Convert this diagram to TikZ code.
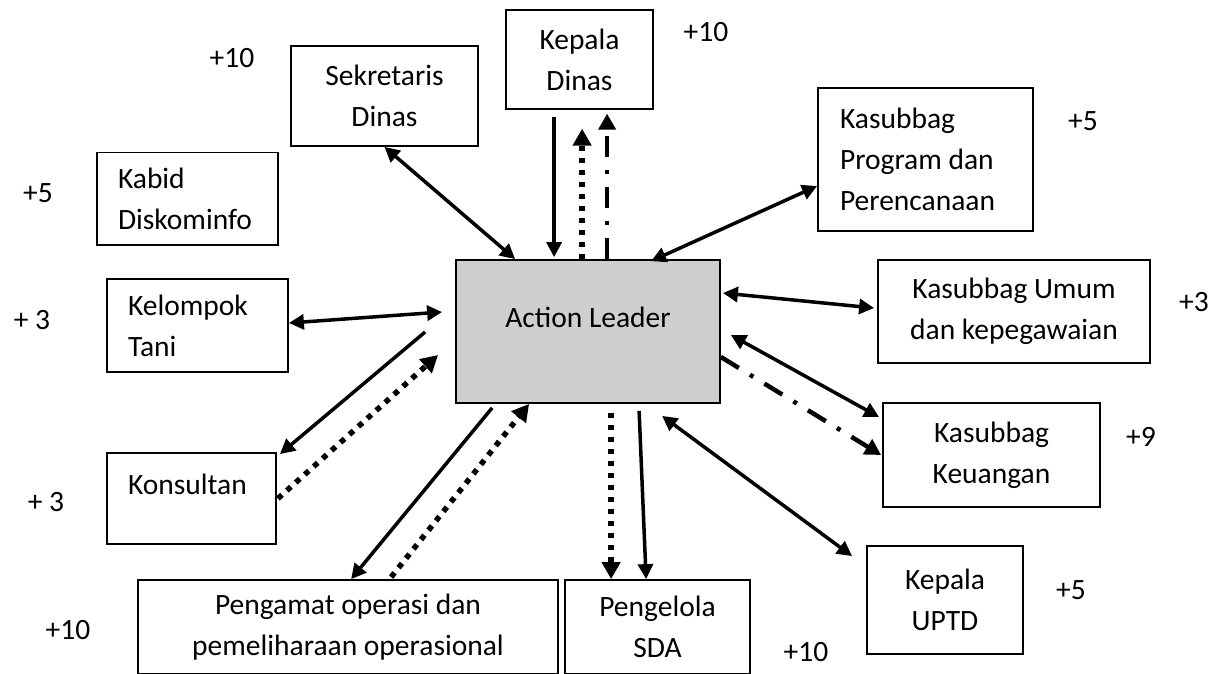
\documentclass[tikz,border=0pt]{standalone}
\usepackage{fontspec}
\setmainfont{Carlito}
\usetikzlibrary{arrows.meta}
\definecolor{algray}{RGB}{208,206,206}
\newcommand\diagfont{\fontsize{29.5}{41}\selectfont}
\begin{document}
\begin{tikzpicture}[x=1pt,y=-1pt,
  >={Triangle[length=15pt,width=15pt]},
  box/.style={draw, line width=1.8pt, inner sep=0pt, font=\diagfont, align=center},
  leftbox/.style={box, align=flush left},
  score/.style={font=\diagfont, inner sep=0pt},
  solidarr/.style={line width=3.5pt},
  dotarr/.style={line width=5.5pt, dash pattern=on 5.5pt off 6.5pt, >={Triangle[length=17pt,width=18pt]}},
  dasharr/.style={line width=4.5pt, dash pattern=on 21pt off 13pt on 4pt off 13pt, >={Triangle[length=16pt,width=17pt]}}]
\useasboundingbox (0,0) rectangle (1209,673);
\clip (0,0) rectangle (1209,673);
\fill[white] (0,0) rectangle (1209,673);

% boxes
\node[box, minimum width=147pt, minimum height=98.5pt] (kd) at (579.5,59.5) {Kepala\\Dinas};
\node[box, minimum width=187pt, minimum height=100pt] (sek) at (384.5,96) {Sekretaris\\Dinas};
\node[leftbox, minimum width=181pt, minimum height=92.5pt, text width=139pt] (kab) at (187.5,198.75) {Kabid\\Diskominfo};
\node[leftbox, minimum width=215pt, minimum height=143pt, text width=171pt] (kp) at (925.5,159.5) {Kasubbag\\Program dan\\Perencanaan};
\node[leftbox, minimum width=181pt, minimum height=93pt, text width=139pt] (kel) at (197.5,325.5) {Kelompok\\Tani};
\node[box, fill=algray, minimum width=264pt, minimum height=143pt, text height=21pt, text depth=30pt] (al) at (588,331.5) {Action Leader};
\node[box, minimum width=272pt, minimum height=103pt] (umum) at (1014,311.5) {Kasubbag Umum\\dan kepegawaian};
\node[box, minimum width=217pt, minimum height=104pt] (keu) at (991.5,455) {Kasubbag\\Keuangan};
\node[leftbox, minimum width=169pt, minimum height=91pt, text width=127pt, text height=21pt, text depth=30pt] (kon) at (191.5,498.5) {Konsultan};
\node[box, minimum width=420pt, minimum height=93.5pt] (pen) at (348,626.75) {Pengamat operasi dan\\pemeliharaan operasional};
\node[box, minimum width=185pt, minimum height=93.5pt] (pgl) at (657.5,626.75) {Pengelola\\SDA};
\node[box, minimum width=156pt, minimum height=108pt] (uptd) at (945,600) {Kepala\\UPTD};

% scores
\node[score] (s1) at (232,58) {+10};
\node[score] (s2) at (706,32) {+10};
\node[score] (s3) at (1083,121) {+5};
\node[score] (s4) at (38,193) {+5};
\node[score] (s5) at (32,320) {+ 3};
\node[score] (s6) at (1194,302) {+3};
\node[score] (s7) at (1141,437) {+9};
\node[score] (s8) at (46,502) {+ 3};
\node[score] (s9) at (68,630) {+10};
\node[score] (s10) at (806,652) {+10};
\node[score] (s11) at (1071,590) {+5};

% connectors
\draw[solidarr,<->] (sek.south) -- ([xshift=60pt]al.north west);
\draw[solidarr,->] ([xshift=49pt,yshift=-7pt]kd.south west) -- ([xshift=99pt,yshift=2pt]al.north west);
\draw[dotarr,->] ([xshift=127pt]al.north west) -- ([xshift=77pt,yshift=-19pt]kd.south west);
\draw[dasharr,->] ([xshift=152pt]al.north west) -- ([xshift=102pt,yshift=-4pt]kd.south west);
\draw[solidarr,<->] ([yshift=-26.5pt]kp.west) -- ([xshift=196pt,yshift=-2pt]al.north west);
\draw[solidarr,<->] ([yshift=2.5pt]kel.east) -- ([xshift=-13pt,yshift=19.5pt]al.west);
\draw[solidarr,->] ([xshift=-30pt,yshift=-0.5pt]al.west) -- ([xshift=3pt,yshift=-2pt]kon.north east);
\draw[dotarr,->] ([xshift=1pt]kon.east) -- ([xshift=-17pt,yshift=-23.5pt]al.west);
\draw[solidarr,->] ([xshift=37pt,yshift=-4pt]al.south west) -- ([xshift=214pt]pen.north west);
\draw[dotarr,->] ([xshift=254pt,yshift=2pt]pen.north west) -- ([xshift=74pt]al.south west);
\draw[dotarr,->] ([xshift=156pt,yshift=-9pt]al.south west) -- ([xshift=47pt]pgl.north west);
\draw[solidarr,->] ([xshift=184pt,yshift=-7pt]al.south west) -- ([xshift=82pt]pgl.north west);
\draw[solidarr,<->] ([xshift=207pt,yshift=-12pt]al.south west) -- ([xshift=-14pt,yshift=-11pt]uptd.north west);
\draw[solidarr,<->] ([xshift=2pt,yshift=38.5pt]al.east) -- ([xshift=-3pt,yshift=3.5pt]umum.west);
\draw[solidarr,<->] ([xshift=10pt,yshift=-3.5pt]al.east) -- ([xshift=-3pt,yshift=-15pt]keu.north west);
\draw[dasharr,->] ([yshift=-25.5pt]al.east) -- ([xshift=-1pt]keu.west);
\end{tikzpicture}
\end{document}
